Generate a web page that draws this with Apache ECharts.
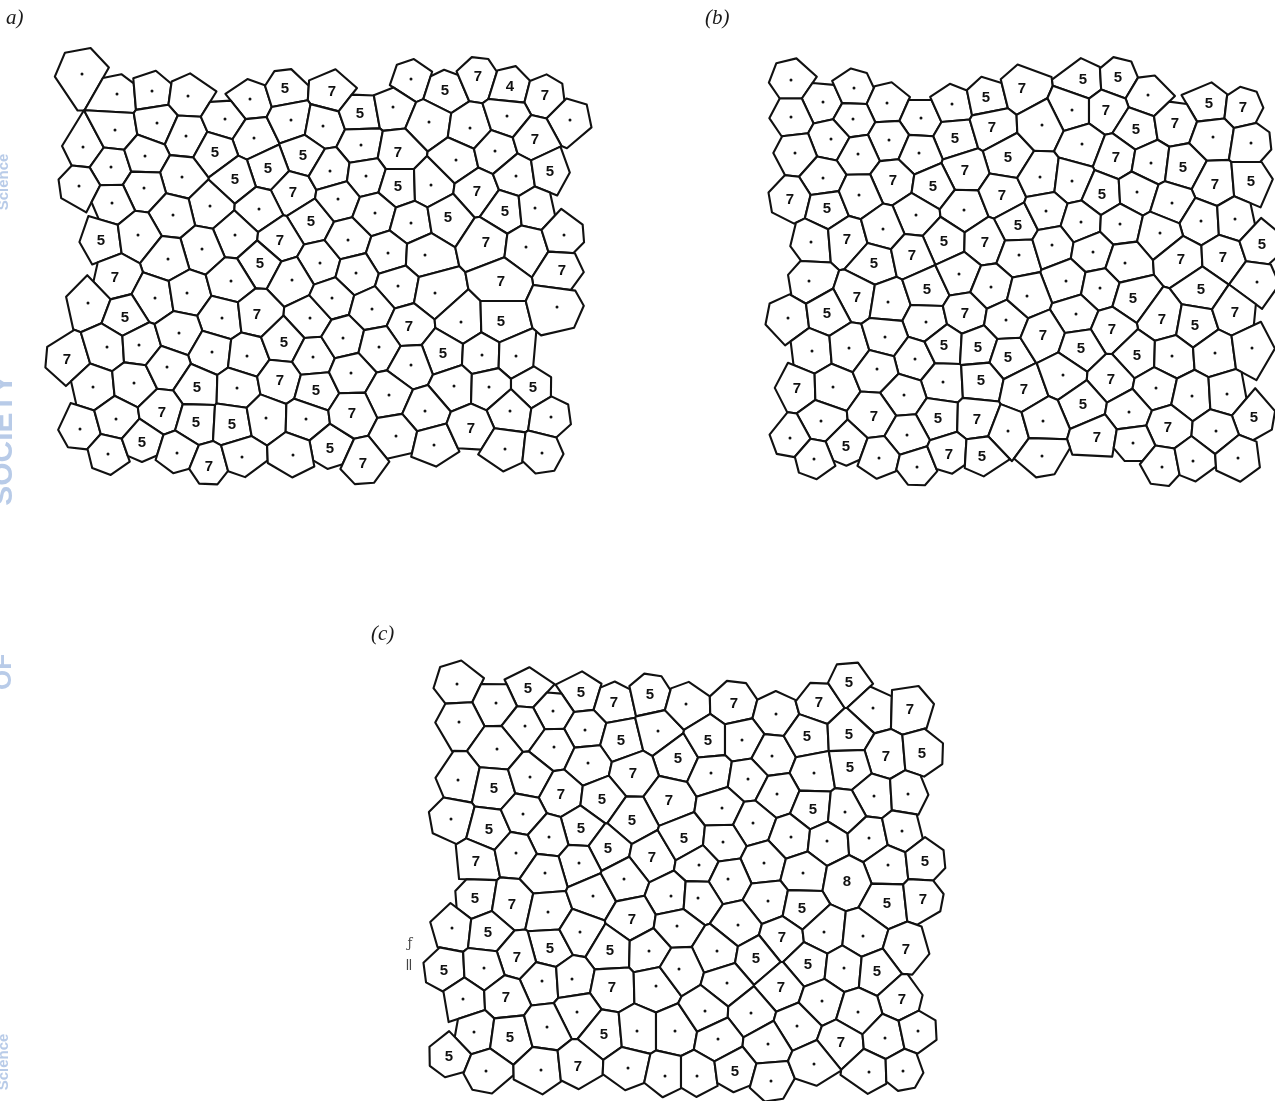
<!DOCTYPE html>
<html><head><meta charset="utf-8">
<script src="https://cdn.jsdelivr.net/npm/echarts@6/dist/echarts.min.js"></script>
<style>html,body{margin:0;padding:0;background:#fff}#chart{width:1275px;height:1101px}</style>
</head><body><div id="chart"></div>
<script>
// Cell seeds (x, y in page pixels) and the number written in each cell ('' = dot)
const cellsA = [
[82,74,''],[117,94,''],[152,91,''],[188,96,''],[250,99,''],[285,88,'5'],[332,91,'7'],[411,79,''],[445,90,'5'],[478,76,'7'],[510,86,'4'],[545,95,'7'],
[83,147,''],[115,130,''],[157,123,''],[186,136,''],[225,119,''],[254,138,''],[291,120,''],[323,126,''],[360,113,'5'],[393,107,''],[429,122,''],[470,128,''],[507,116,''],[570,120,''],
[215,152,'5'],[303,155,'5'],[268,168,'5'],[235,179,'5'],[111,167,''],[145,156,''],[79,186,''],[182,177,''],[144,188,''],[112,203,''],[293,192,'7'],[210,206,''],[173,215,''],[259,209,''],[311,221,'5'],
[101,240,'5'],[138,235,''],[235,235,''],[280,240,'7'],[202,249,''],[168,259,''],[260,263,'5'],[320,263,''],
[361,145,''],[398,152,'7'],[456,160,''],[495,151,''],[535,139,'7'],[330,171,''],[366,176,''],[398,186,'5'],[431,185,''],[477,191,'7'],[516,176,''],[550,171,'5'],
[338,199,''],[375,213,''],[411,223,''],[448,217,'5'],[505,211,'5'],[535,208,''],[348,240,''],[388,253,''],[425,255,''],[486,242,'7'],[526,247,''],[564,235,''],[562,270,'7'],
[115,277,'7'],[88,303,''],[155,298,''],[187,293,''],[231,281,''],[292,280,''],[125,317,'5'],[222,318,''],[257,314,'7'],[310,318,''],
[67,359,'7'],[107,347,''],[139,345,''],[179,333,''],[212,352,''],[247,356,''],[284,342,'5'],[313,357,''],
[93,387,''],[134,383,''],[167,367,''],[197,387,'5'],[237,388,''],[280,380,'7'],[316,390,'5'],
[80,429,''],[116,419,''],[162,412,'7'],[196,422,'5'],[232,424,'5'],[266,418,''],[306,419,''],[330,448,'5'],
[108,454,''],[142,442,'5'],[177,453,''],[209,466,'7'],[242,457,''],[293,455,''],
[356,273,''],[398,286,''],[435,293,''],[501,281,'7'],[332,298,''],[372,309,''],[409,326,'7'],[461,322,''],[501,321,'5'],[557,307,''],
[343,338,''],[379,347,''],[443,353,'5'],[482,355,''],[516,356,''],[351,373,''],[411,365,''],[389,395,''],[454,386,''],[489,387,''],[533,387,'5'],
[352,413,'7'],[425,411,''],[510,411,''],[551,417,''],[396,436,''],[434,445,''],[471,428,'7'],[505,449,''],[542,453,''],[363,463,'7']
];
const cellsB = [
[791,80,''],[823,102,''],[854,88,''],[887,103,''],[921,118,''],[952,104,''],[986,97,'5'],[1022,88,'7'],
[791,117,''],[853,119,''],[831,139,''],[889,140,''],[955,138,'5'],[992,127,'7'],[795,153,''],[858,154,''],[919,153,''],[1008,157,'5'],
[823,178,''],[893,180,'7'],[965,170,'7'],[933,186,'5'],[790,199,'7'],[827,208,'5'],[859,195,''],[916,215,''],[964,210,''],[1002,195,'7'],[1018,225,'5'],
[811,242,''],[847,239,'7'],[883,229,''],[944,241,'5'],[985,242,'7'],[1019,255,''],[874,263,'5'],[912,255,'7'],
[1083,79,'5'],[1118,77,'5'],[1148,95,''],[1209,103,'5'],[1243,107,'7'],[1072,110,''],[1106,110,'7'],[1136,129,'5'],[1175,123,'7'],[1042,125,''],[1082,144,''],[1213,137,''],[1251,143,''],
[1116,157,'7'],[1151,163,''],[1183,167,'5'],[1040,177,''],[1072,181,''],[1215,184,'7'],[1251,181,'5'],[1102,194,'5'],[1137,192,''],[1172,203,''],
[1046,211,''],[1081,222,''],[1120,224,''],[1201,221,''],[1235,219,''],[1052,245,''],[1093,252,''],[1160,233,''],[1125,263,''],[1181,259,'7'],[1223,257,'7'],[1262,244,'5'],
[809,281,''],[857,297,'7'],[888,302,''],[927,289,'5'],[959,274,''],[991,287,''],[788,318,''],[827,313,'5'],[926,322,''],[965,313,'7'],[1006,320,''],
[812,351,''],[849,348,''],[885,337,''],[915,359,''],[944,345,'5'],[978,347,'5'],[1008,357,'5'],[797,388,'7'],[833,387,''],[877,369,''],[943,382,''],[981,380,'5'],[1024,389,'7'],[904,395,''],
[821,421,''],[874,416,'7'],[938,418,'5'],[977,419,'7'],[1008,431,''],[790,438,''],[846,446,'5'],[907,435,''],[814,459,''],[879,458,''],[917,467,''],[949,454,'7'],[982,456,'5'],
[1066,281,''],[1100,288,''],[1201,289,'5'],[1257,282,''],[1027,296,''],[1133,298,'5'],[1076,314,''],[1162,319,'7'],[1195,325,'5'],[1235,312,'7'],
[1043,335,'7'],[1112,329,'7'],[1081,348,'5'],[1137,355,'5'],[1172,356,''],[1215,353,''],[1252,348,''],[1063,375,''],[1111,379,'7'],[1156,388,''],[1192,396,''],[1227,394,''],
[1083,404,'5'],[1129,412,''],[1254,417,'5'],[1043,421,''],[1168,427,'7'],[1216,431,''],[1097,437,'7'],[1133,443,''],[1042,456,''],[1162,467,''],[1193,461,''],[1238,458,'']
];
const cellsC = [
[457,684,''],[528,688,'5'],[581,692,'5'],[614,702,'7'],[650,694,'5'],[496,703,''],[553,711,''],[459,722,''],[525,726,''],[585,730,''],[621,740,'5'],[658,731,''],
[497,749,''],[554,747,''],[588,763,''],[678,758,'5'],[458,780,''],[494,788,'5'],[530,777,''],[561,794,'7'],[633,773,'7'],[602,799,'5'],[669,800,'7'],
[451,819,''],[489,829,'5'],[523,814,''],[581,828,'5'],[632,820,'5'],[549,837,''],[608,848,'5'],[652,857,'7'],[684,838,'5'],[476,861,'7'],[516,853,''],[579,863,''],[545,873,''],
[686,704,''],[734,703,'7'],[776,714,''],[819,702,'7'],[849,682,'5'],[873,708,''],[910,709,'7'],[708,740,'5'],[742,740,''],[772,756,''],[807,736,'5'],[849,734,'5'],[886,756,'7'],[922,753,'5'],
[711,773,''],[748,779,''],[814,773,''],[850,767,'5'],[777,794,''],[874,796,''],[908,794,''],[722,808,''],[753,823,''],[813,809,'5'],[845,812,''],
[723,842,''],[791,837,''],[827,841,''],[869,838,''],[902,831,''],[699,865,''],[764,863,''],[803,873,''],[888,865,''],[925,861,'5'],
[475,898,'5'],[512,904,'7'],[548,912,''],[593,896,''],[624,879,''],[671,896,''],[452,928,''],[488,932,'5'],[550,948,'5'],[580,932,''],[632,919,'7'],[517,957,'7'],[610,950,'5'],[649,951,''],
[444,970,'5'],[484,968,''],[542,981,''],[572,979,''],[612,987,'7'],[656,986,''],[463,999,''],[506,997,'7'],[577,1012,''],[474,1032,''],[510,1037,'5'],[547,1027,''],[604,1034,'5'],[637,1031,''],[675,1031,''],
[449,1056,'5'],[486,1071,''],[541,1070,''],[578,1066,'7'],[628,1068,''],[665,1076,''],
[728,879,''],[847,881,'8'],[887,903,'5'],[923,899,'7'],[698,898,''],[768,901,''],[802,908,'5'],[677,926,''],[738,925,''],[782,937,'7'],[824,932,''],[863,936,''],[906,949,'7'],
[717,951,''],[756,958,'5'],[808,964,'5'],[844,968,''],[877,971,'5'],[679,969,''],[727,983,''],[781,987,'7'],[902,999,'7'],[822,1001,''],[858,1012,''],[705,1011,''],[751,1013,''],[797,1026,''],
[841,1042,'7'],[885,1038,''],[918,1031,''],[718,1039,''],[768,1044,''],[697,1076,''],[735,1071,'5'],[771,1081,''],[814,1064,''],[869,1072,''],[903,1071,'']
];
const panelTitles = [['a)', 6, 8], ['(b)', 705, 8], ['(c)', 371, 624]];
// faint page-edge lettering on the left margin (text, centre y, font size)
const marginTexts = [['Science', 182, 15], ['SOCIETY', 440, 30], ['OF', 672, 26], ['Science', 1062, 15]];
// small pencil marks beside panel (c): text, x, y, size
const pencilMarks = [['ƒ', 410, 944, 13], ['ǁ', 409, 966, 15]];

function clip(poly, nx, ny, c) {
  const out = [];
  for (let i = 0; i < poly.length; i++) {
    const P = poly[i], Q = poly[(i + 1) % poly.length];
    const dp = nx * P[0] + ny * P[1] - c, dq = nx * Q[0] + ny * Q[1] - c;
    if (dp <= 0) out.push(P);
    if ((dp < 0 && dq > 0) || (dp > 0 && dq < 0)) {
      const t = dp / (dp - dq);
      out.push([P[0] + t * (Q[0] - P[0]), P[1] + t * (Q[1] - P[1])]);
    }
  }
  return out;
}
function cellPolys(cells) {
  const pts = cells.map(c => [c[0], c[1]]);
  return pts.map((s, i) => {
    let poly = [[s[0]-70,s[1]-70],[s[0]+70,s[1]-70],[s[0]+70,s[1]+70],[s[0]-70,s[1]+70]];
    const nb = [];
    pts.forEach((p, j) => {
      if (j === i) return;
      const dx = p[0]-s[0], dy = p[1]-s[1], d = Math.hypot(dx, dy);
      if (d < 140) poly = clip(poly, dx, dy, (p[0]*p[0]+p[1]*p[1]-s[0]*s[0]-s[1]*s[1]) / 2);
      if (d < 76) nb.push({a: Math.atan2(dy, dx), d});
    });
    nb.sort((u, v) => u.a - v.a);
    const ds = nb.map(n => n.d).sort((u, v) => u - v).slice(0, 2);
    let h = ds.length ? 0.52 * ds.reduce((u, v) => u + v, 0) / ds.length : 20;
    h = Math.max(18, Math.min(24, h));
    const angs = nb.map(n => n.a);
    const gaps = [];
    if (!angs.length) gaps.push([0, 2*Math.PI]);
    for (let k = 0; k < angs.length; k++) {
      const a1 = angs[k], a2 = k + 1 < angs.length ? angs[k+1] : angs[0] + 2*Math.PI;
      if (a2 - a1 > 100*Math.PI/180) gaps.push([a1, a2 - a1]);
    }
    gaps.forEach(([a1, g]) => {
      const n = Math.max(1, Math.round(g / (55*Math.PI/180)) - 1);
      const step = g / (n + 1);
      for (let m = 1; m <= n; m++) {
        const a = a1 + m*step, nx = Math.cos(a), ny = Math.sin(a);
        poly = clip(poly, nx, ny, nx*s[0] + ny*s[1] + h);
      }
    });
    return poly;
  });
}

function cellSeries(cells) {
  const polys = cellPolys(cells);
  return {
    type: 'custom', coordinateSystem: 'cartesian2d', silent: true, animation: false, clip: false,
    data: cells.map((c, i) => [c[0], c[1], i]),
    encode: {x: 0, y: 1},
    renderItem: (params, api) => {
      const i = api.value(2);
      const c = cells[i];
      const ctr = api.coord([c[0], c[1]]);
      const children = [{
        type: 'polygon',
        shape: {points: polys[i].map(p => api.coord(p))},
        style: {fill: '#fff', stroke: '#111', lineWidth: 2.1, lineJoin: 'round'}
      }];
      if (c[2]) {
        children.push({type: 'text', style: {text: c[2], x: ctr[0], y: ctr[1] + 1, align: 'center', verticalAlign: 'middle',
          fontSize: 15, fontWeight: 'bold', fontFamily: '"Liberation Sans", Arial, sans-serif', fill: '#111'}});
      } else {
        children.push({type: 'circle', shape: {cx: ctr[0], cy: ctr[1], r: 1.5}, style: {fill: '#111'}});
      }
      return {type: 'group', children};
    }
  };
}

const chart = echarts.init(document.getElementById('chart'), null, {renderer: 'canvas'});
chart.setOption({
  backgroundColor: '#ffffff',
  animation: false,
  grid: {left: 0, top: 0, width: 1275, height: 1101},
  xAxis: {type: 'value', min: 0, max: 1275, show: false},
  yAxis: {type: 'value', min: 0, max: 1101, inverse: true, show: false},
  graphic: panelTitles.map(t => ({
    type: 'text', left: t[1], top: t[2],
    style: {text: t[0], font: 'italic 21px "Liberation Serif", "DejaVu Serif", serif', fill: '#1a1a1a'}
  })).concat(marginTexts.map(t => ({
    type: 'text', x: 4, y: t[1], rotation: Math.PI / 2,
    style: {text: t[0], x: 0, y: 0, align: 'center', verticalAlign: 'middle',
      font: 'bold ' + t[2] + 'px "Liberation Sans", sans-serif', fill: '#b8cbe8'}
  }))).concat(pencilMarks.map(t => ({
    type: 'text', x: t[1], y: t[2],
    style: {text: t[0], x: 0, y: 0, align: 'center', verticalAlign: 'middle',
      font: t[3] + 'px "DejaVu Serif", serif', fill: '#444'}
  }))),
  series: [cellSeries(cellsA), cellSeries(cellsB), cellSeries(cellsC)]
});
</script></body></html>
